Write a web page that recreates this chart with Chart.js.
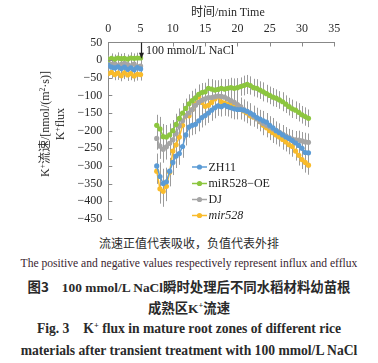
<!DOCTYPE html>
<html><head><meta charset="utf-8">
<script src="https://cdn.jsdelivr.net/npm/chart.js@4"></script>
<style>
body{margin:0;background:#fff;width:378px;height:363px;overflow:hidden;position:relative;}
#wrap{position:absolute;left:0;top:0;width:378px;height:232px;}
.t{position:absolute;left:0;width:378px;text-align:center;white-space:nowrap;color:#2a2a2a;}
.cn{font-family:"Noto Sans CJK SC","Liberation Serif",serif;}
.en{font-family:"Liberation Serif","DejaVu Serif",serif;}
.b{font-weight:bold;}
sup{font-size:0.62em;line-height:0;vertical-align:0.55em;}
#ytitle{position:absolute;left:52px;top:124px;width:0;height:0;}
#ytitle div{position:absolute;transform:translate(-50%,-50%) rotate(-90deg);white-space:nowrap;font-size:12px;line-height:15px;text-align:center;color:#2a2a2a;font-family:"Liberation Serif","Noto Sans CJK SC",serif;}
</style></head>
<body>
<div id="wrap"><canvas id="c" width="378" height="232"></canvas></div>
<div class="t en" style="top:3px;left:191px;width:auto;font-size:12px;line-height:16px;"><span class="cn">时间</span>/min Time</div>
<div id="ytitle"><div>K<sup>+</sup><span class="cn">流速</span>/[nmol/(m<sup>2</sup>·s)]<br>K<sup>+</sup>flux</div></div>
<div class="t cn" style="top:235px;font-size:12px;line-height:16px;">流速正值代表吸收，负值代表外排</div>
<div class="t en" style="top:256px;font-size:11.6px;line-height:16px;color:#3a2630;">The positive and negative values respectively represent influx and efflux</div>
<div class="t cn b" style="top:277px;font-size:13.4px;line-height:18px;">图3<span class="en">　100 mmol/L NaCl</span>瞬时处理后不同水稻材料幼苗根</div>
<div class="t cn b" style="top:298px;font-size:13.4px;line-height:18px;">成熟区<span class="en">K<sup>+</sup></span>流速</div>
<div class="t en b" style="top:320px;font-size:13.6px;line-height:18px;">Fig. 3　K<sup>+</sup> flux in mature root zones of different rice</div>
<div class="t en b" style="top:342px;font-size:13.6px;line-height:18px;">materials after transient treatment with 100 mmol/L NaCl</div>
<script>
const xTicks = [0,5,10,15,20,25,30,35];
const yTicks = [50,0,-50,-100,-150,-200,-250,-300,-350,-400,-450];
const seriesNames = ['ZH11','miR528−OE','DJ','mir528'];
const times = [0,0.5,1,1.5,2,2.5,3,3.5,4,4.5,5, 6,
 7.5,8,8.5,9,9.5,10,10.5,11,11.5,12,12.5,13,13.5,14,14.5,15,15.5,16,16.5,17,17.5,18,18.5,19,19.5,20,
 20.5,21,21.5,22,22.5,23,23.5,24,24.5,25,25.5,26,26.5,27,27.5,28,28.5,29,29.5,30,30.5,31];
const zh11 = [-15,-20,-22,-19,-24,-20,-26,-22,-27,-21,-25, null,
 -300,-330,-350,-345,-315,-290,-272,-265,-245,-212,-190,-185,-182,-172,-163,-157,-150,-142,-135,-130,
 -132,-128,-132,-135,-138,-140,-140,-142,-145,-150,-155,-163,-167,-172,-176,-185,-192,-200,-206,-212,
 -218,-222,-228,-235,-242,-250,-262,-263];
const miR528OE = [2,5,3,6,4,5,3,6,5,6,6, null,
 -185,-195,-217,-218,-212,-200,-182,-165,-150,-137,-124,-115,-107,-97,-92,-90,-80,-82,-85,-83,
 -80,-82,-80,-78,-80,-78,-75,-72,-69,-72,-78,-80,-85,-90,-95,-100,-105,-108,-113,-118,
 -125,-132,-138,-142,-148,-155,-160,-165];
const dj = [-8,-12,-10,-15,-12,-9,-13,-16,-11,-18,-17, null,
 -222,-244,-253,-246,-236,-226,-208,-187,-172,-158,-150,-140,-128,-120,-114,-110,-106,-106,-104,-102,
 -103,-105,-110,-115,-120,-126,-132,-140,-146,-153,-160,-167,-174,-180,-185,-190,-195,-200,-205,-210,
 -215,-220,-224,-226,-227,-229,-232,-233];
const mir528 = [-38,-35,-41,-37,-44,-36,-42,-38,-45,-40,-41, null,
 -315,-365,-372,-358,-318,-258,-240,-218,-185,-158,-158,-140,-125,-104,-120,-131,-128,-120,-110,-104,
 -118,-122,-125,-128,-130,-135,-140,-144,-150,-158,-162,-165,-175,-185,-192,-200,-206,-212,-218,-225,
 -232,-240,-245,-258,-270,-282,-290,-298];
const errZH11 = [14,16,15,18,15,17,16,18,15,17,16, null,
 35,40,42,40,38,36,34,32,32,30,30,28,28,30,28,28,28,30,30,28,28,30,28,30,30,28,28,30,28,28,26,
 28,26,28,26,26,28,26,26,28,26,26,28,26,28,26,28,26];
const errOE = [12,14,13,16,14,15,13,16,14,15,14, null,
 30,34,36,34,32,30,30,28,28,28,27,28,26,28,27,26,27,28,28,26,27,28,26,28,28,27,26,28,27,26,25,
 26,25,27,25,25,26,25,25,27,25,25,26,25,26,25,26,25];
const errDJ = [13,15,14,17,14,16,15,17,14,16,15, null,
 32,36,38,36,34,32,31,30,30,29,28,27,27,28,27,27,26,28,28,27,27,28,27,28,28,27,26,28,27,27,25,
 27,25,26,25,25,27,25,25,26,25,25,26,25,27,25,26,25];
const errMir = [15,17,16,19,16,18,17,19,16,18,17, null,
 36,42,44,42,40,38,35,33,33,31,30,29,29,31,29,29,28,30,30,29,28,30,29,30,30,29,28,30,29,28,27,
 29,27,28,27,27,29,27,27,29,27,27,29,27,29,27,29,27];

const colors = ['#5b9bd5','#8cc63f','#a5a5a5','#f9bb2b'];
const vals = [zh11, miR528OE, dj, mir528];
const errs = [errZH11, errOE, errDJ, errMir];

const datasets = vals.map((v,k)=>({
  label: seriesNames[k],
  data: times.map((t,i)=>({x:t, y:v[i]})),
  borderColor: colors[k], backgroundColor: colors[k],
  pointBackgroundColor: colors[k], pointBorderWidth:0, pointRadius:2.6,
  borderWidth:1.5, spanGaps:false, tension:0
}));

const serif = '"Liberation Serif", serif';

const errorBars = {
  id:'errorBars',
  beforeDatasetsDraw(chart){
    const {ctx, scales:{x,y}} = chart;
    ctx.save(); ctx.strokeStyle='#9b9b9b'; ctx.lineWidth=1;
    vals.forEach((v,k)=>{
      v.forEach((val,i)=>{
        if(val==null) return;
        const e = errs[k][i];
        const px = Math.round(x.getPixelForValue(times[i]))+0.5;
        ctx.beginPath();
        ctx.moveTo(px, y.getPixelForValue(val+e));
        ctx.lineTo(px, y.getPixelForValue(val-e));
        ctx.stroke();
      });
    });
    ctx.restore();
  }
};

const extras = {
  id:'extras',
  afterDraw(chart){
    const {ctx, scales:{x,y}, chartArea:a} = chart;
    ctx.save();
    ctx.strokeStyle='#888'; ctx.lineWidth=1;
    xTicks.forEach(t=>{ if(t===0) return; const px=Math.round(x.getPixelForValue(t))+0.5;
      ctx.beginPath(); ctx.moveTo(px,a.top); ctx.lineTo(px,a.top+4); ctx.stroke(); });
    yTicks.forEach(t=>{ if(t===50) return; const py=Math.round(y.getPixelForValue(t))+0.5;
      ctx.beginPath(); ctx.moveTo(a.left,py); ctx.lineTo(a.left+4,py); ctx.stroke(); });
    const ax = Math.round(x.getPixelForValue(5))+0.5;
    ctx.strokeStyle='#222'; ctx.fillStyle='#222'; ctx.lineWidth=1.2;
    ctx.beginPath(); ctx.moveTo(ax,a.top); ctx.lineTo(ax,y.getPixelForValue(4)-4); ctx.stroke();
    const tipY = y.getPixelForValue(4);
    ctx.beginPath(); ctx.moveTo(ax,tipY); ctx.lineTo(ax-2.5,tipY-6); ctx.lineTo(ax+2.5,tipY-6); ctx.closePath(); ctx.fill();
    ctx.font='12px '+serif; ctx.fillStyle='#222'; ctx.textBaseline='middle'; ctx.textAlign='left';
    ctx.fillText('100 mmol/L NaCl', ax+4.5, y.getPixelForValue(26));
    const lx = 192, ly = [167,183.5,199.5,215.5];
    seriesNames.forEach((n,k)=>{
      ctx.strokeStyle=colors[k]; ctx.lineWidth=1.5;
      ctx.beginPath(); ctx.moveTo(lx,ly[k]); ctx.lineTo(lx+15,ly[k]); ctx.stroke();
      ctx.fillStyle=colors[k]; ctx.beginPath(); ctx.arc(lx+7.5,ly[k],2.6,0,Math.PI*2); ctx.fill();
      ctx.fillStyle='#222';
      ctx.font=(k===3?'italic ':'')+'12px '+serif;
      ctx.fillText(n, lx+16.5, ly[k]+0.5);
    });
    ctx.restore();
  }
};

new Chart(document.getElementById('c'), {
  type:'line',
  data:{datasets},
  options:{
    responsive:false, animation:false, devicePixelRatio:1,
    layout:{padding:{left:0,right:43.7,top:0,bottom:6}},
    plugins:{legend:{display:false}, tooltip:{enabled:false}},
    scales:{
      x:{type:'linear', position:'top', min:0, max:35,
        afterBuildTicks(s){ s.ticks = xTicks.map(v=>({value:v})); },
        afterFit(s){ s.height = 42.5; },
        ticks:{font:{family:serif,size:12}, color:'#2a2a2a', padding:6, maxRotation:0},
        grid:{drawOnChartArea:false, drawTicks:false},
        border:{color:'#888', width:1}
      },
      y:{type:'linear', min:-450, max:50,
        afterBuildTicks(s){ s.ticks = yTicks.map(v=>({value:v})); },
        afterFit(s){ s.width = 108.3; },
        ticks:{font:{family:serif,size:12}, color:'#2a2a2a', padding:6,
          callback:v=>String(v).replace('-','−')},
        grid:{drawOnChartArea:false, drawTicks:false},
        border:{color:'#888', width:1}
      }
    }
  },
  plugins:[errorBars, extras]
});
</script>
</body></html>
